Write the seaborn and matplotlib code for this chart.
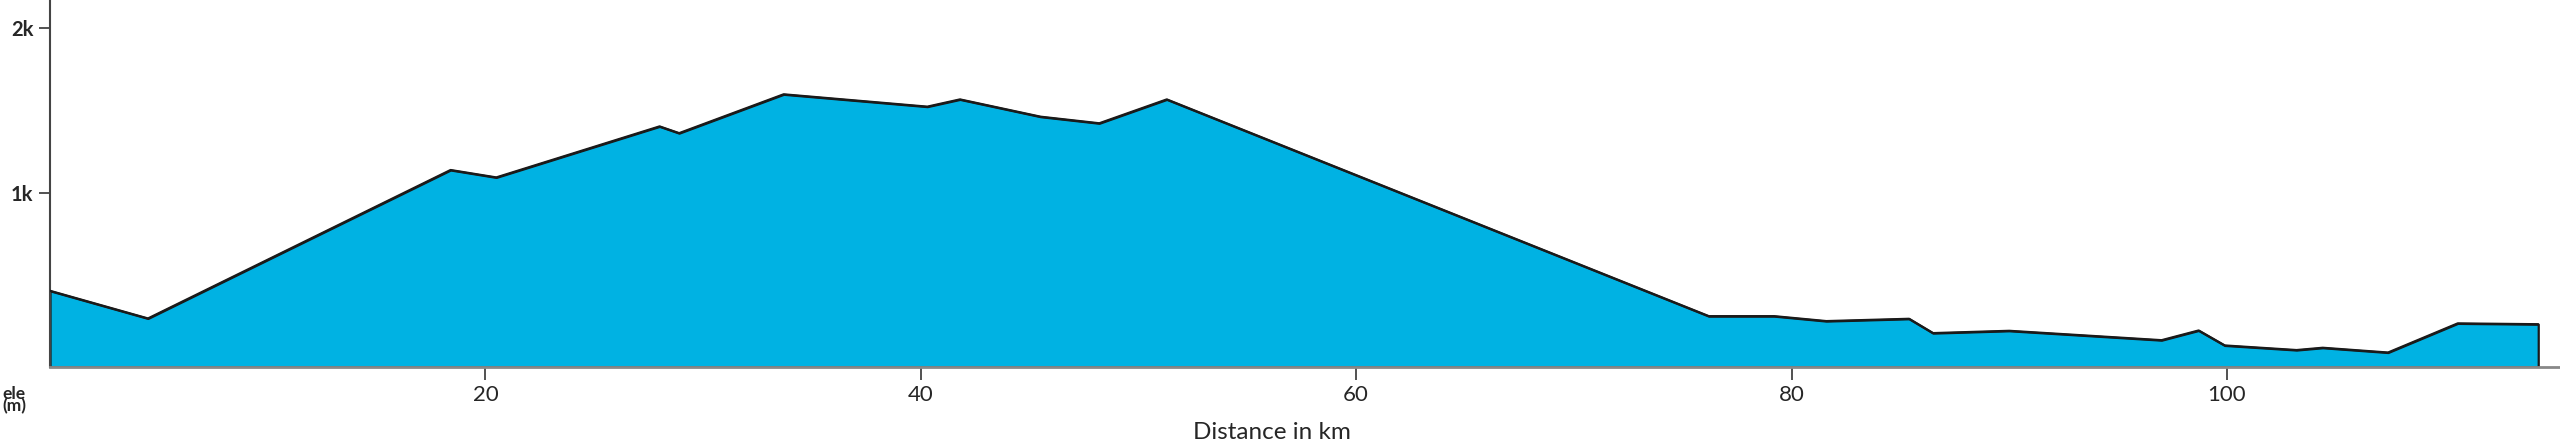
import numpy as np
import seaborn as sns
import matplotlib.pyplot as plt
from matplotlib.ticker import FixedLocator

# elevation profile
dist_km = [0.0, 4.5, 18.4, 20.5, 28.0, 28.9, 33.7, 40.3, 41.8, 45.5, 48.2, 51.3,
           76.2, 79.2, 81.6, 85.4, 86.5, 90.0, 97.0, 98.7, 99.9, 103.2, 104.4,
           107.4, 110.6, 114.3]
ele_m = [403, 235, 1137, 1092, 1402, 1361, 1597, 1522, 1566, 1461, 1421, 1566,
         249, 249, 219, 233, 146, 160, 103, 162, 71, 43, 57, 28, 205, 200]

x_ticks = [20, 40, 60, 80, 100]
y_ticks = [1000, 2000]
y_tick_labels = ["1k", "2k"]

sns.set_style("white")
plt.rcParams['font.family'] = ['Lato', 'DejaVu Sans']

fig = plt.figure(figsize=(25.6, 4.44), dpi=100)
ax = fig.add_axes([50 / 2560, 77 / 444, 1 - 50 / 2560, 1 - 77 / 444])

y_bottom = -60
ax.fill_between(dist_km, ele_m, y_bottom, facecolor="#00b2e3",
                edgecolor="#1a1a1a", linewidth=1.6, zorder=2)
sns.lineplot(x=dist_km, y=ele_m, ax=ax, color="#1a1a1a", linewidth=1.6, zorder=3)

ax.set_xlim(0, 115.3)
ax.set_ylim(y_bottom, 2170)

ax.xaxis.set_major_locator(FixedLocator(x_ticks))
ax.set_xticklabels([str(t) for t in x_ticks])
ax.set_yticks(y_ticks)
ax.set_yticklabels(y_tick_labels)

ax.tick_params(axis="x", direction="out", length=9, width=1.2, color="#333333",
               labelsize=16, pad=4, bottom=True)
ax.tick_params(axis="y", direction="out", length=8, width=1.2, color="#333333",
               labelsize=14.5, pad=4, left=True)
for lab in ax.get_yticklabels():
    lab.set_fontweight("bold")

for s in ["top", "right"]:
    ax.spines[s].set_visible(False)
ax.spines["left"].set_color("#444444")
ax.spines["left"].set_linewidth(1.5)
ax.spines["bottom"].set_color("#888888")
ax.spines["bottom"].set_linewidth(2)

ax.set_xlabel("Distance in km", fontsize=17.5, va="center")
ax.xaxis.set_label_coords(0.487, -0.178)
ax.set_ylabel("")

fig.text(14 / 2560, 1 - 400 / 444, "ele\n(m)", ha="center", va="center",
         fontsize=12.5, fontweight="bold", linespacing=0.72)

fig.savefig("out.png", dpi=100)
